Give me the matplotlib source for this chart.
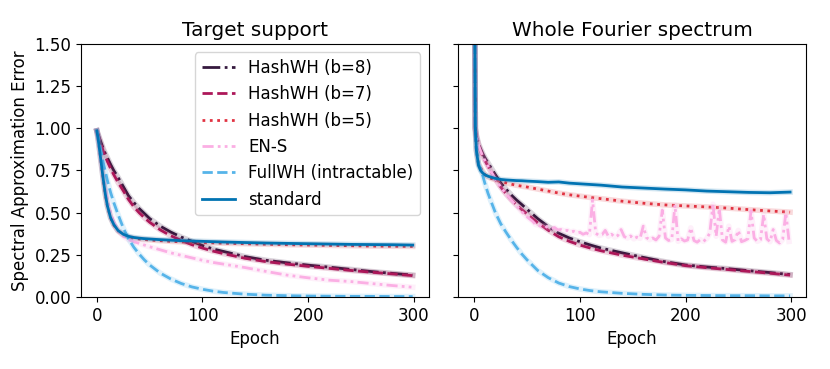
import matplotlib.pyplot as plt

plt.rcParams['font.size'] = 12

epochs = [0, 1, 2, 4, 6, 8, 10, 13, 16, 20, 25, 30, 35, 40, 45, 50, 60, 70, 80, 90,
          100, 110, 120, 140, 160, 180, 200, 220, 240, 260, 280, 299]

# Target support (left panel)
b8_left = [0.985, 0.968, 0.95, 0.915, 0.88, 0.85, 0.825, 0.786, 0.75, 0.71, 0.655, 0.60, 0.56,
           0.525, 0.495, 0.465, 0.42, 0.385, 0.355, 0.33, 0.305, 0.285, 0.27, 0.24, 0.218,
           0.203, 0.189, 0.177, 0.164, 0.151, 0.14, 0.13]
b7_left = [0.985, 0.965, 0.945, 0.905, 0.865, 0.832, 0.803, 0.762, 0.725, 0.68, 0.63, 0.578,
           0.535, 0.5, 0.47, 0.443, 0.398, 0.363, 0.335, 0.31, 0.29, 0.272, 0.257, 0.23, 0.21,
           0.195, 0.182, 0.17, 0.158, 0.147, 0.137, 0.127]
b5_left = [0.985, 0.945, 0.9, 0.8, 0.7, 0.61, 0.54, 0.47, 0.428, 0.392, 0.368, 0.356, 0.348,
           0.344, 0.341, 0.338, 0.334, 0.33, 0.327, 0.325, 0.323, 0.321, 0.319, 0.316, 0.313,
           0.31, 0.308, 0.306, 0.304, 0.302, 0.301, 0.3]
ens_left = [0.985, 0.94, 0.9, 0.81, 0.72, 0.64, 0.575, 0.5, 0.445, 0.395, 0.36, 0.34, 0.328,
            0.318, 0.308, 0.298, 0.28, 0.262, 0.247, 0.232, 0.218, 0.205, 0.195, 0.175, 0.152,
            0.13, 0.114, 0.1, 0.092, 0.08, 0.068, 0.058]
full_left = [0.985, 0.955, 0.92, 0.86, 0.80, 0.745, 0.69, 0.62, 0.56, 0.49, 0.41, 0.345, 0.295,
             0.255, 0.22, 0.19, 0.142, 0.107, 0.08, 0.06, 0.046, 0.035, 0.027, 0.017, 0.011,
             0.008, 0.006, 0.005, 0.004, 0.004, 0.003, 0.003]
std_left = [0.985, 0.945, 0.9, 0.8, 0.7, 0.61, 0.54, 0.47, 0.43, 0.395, 0.372, 0.36, 0.353,
            0.349, 0.346, 0.344, 0.34, 0.337, 0.334, 0.332, 0.33, 0.328, 0.326, 0.323, 0.32,
            0.318, 0.316, 0.314, 0.312, 0.311, 0.31, 0.308]

# Whole Fourier spectrum (right panel)
b8_right = [2.3, 1.0, 0.96, 0.91, 0.878, 0.85, 0.826, 0.795, 0.765, 0.725, 0.677, 0.64, 0.605,
            0.575, 0.548, 0.52, 0.465, 0.418, 0.378, 0.35, 0.328, 0.308, 0.29, 0.262, 0.235,
            0.21, 0.19, 0.178, 0.168, 0.156, 0.145, 0.133]
b7_right = [2.3, 1.0, 0.95, 0.9, 0.865, 0.835, 0.81, 0.775, 0.742, 0.7, 0.652, 0.612, 0.577,
            0.546, 0.518, 0.492, 0.44, 0.396, 0.357, 0.33, 0.308, 0.29, 0.274, 0.248, 0.226,
            0.205, 0.186, 0.174, 0.163, 0.152, 0.141, 0.13]
b5_right = [2.3, 1.0, 0.87, 0.79, 0.765, 0.745, 0.725, 0.712, 0.703, 0.695, 0.686, 0.677, 0.669,
            0.662, 0.657, 0.652, 0.64, 0.628, 0.616, 0.606, 0.598, 0.59, 0.583, 0.568, 0.556,
            0.546, 0.54, 0.534, 0.527, 0.518, 0.51, 0.503]
full_right = [2.3, 1.0, 0.87, 0.79, 0.76, 0.72, 0.675, 0.615, 0.565, 0.5, 0.435, 0.385, 0.338,
              0.295, 0.255, 0.22, 0.158, 0.115, 0.083, 0.062, 0.048, 0.038, 0.031, 0.022, 0.016,
              0.012, 0.01, 0.009, 0.008, 0.008, 0.007, 0.007]
std_right = [2.3, 1.0, 0.87, 0.78, 0.75, 0.735, 0.725, 0.716, 0.71, 0.703, 0.697, 0.694, 0.692,
             0.69, 0.689, 0.687, 0.684, 0.68, 0.682, 0.675, 0.671, 0.667, 0.663, 0.652, 0.646,
             0.64, 0.635, 0.628, 0.624, 0.62, 0.618, 0.622]

# EN-S on the whole spectrum is noisy, so it has its own denser epoch list
ens_epochs = [0, 1, 2, 4, 6, 8, 10, 13, 16, 20, 25, 30, 35, 40, 45, 50, 55] + list(range(58, 299, 3))
ens_right = [2.3, 1.0, 0.95, 0.9, 0.865, 0.835, 0.81, 0.775, 0.742, 0.7, 0.652, 0.612, 0.575,
             0.54, 0.505, 0.475, 0.45,
             0.43, 0.425, 0.418, 0.422, 0.41, 0.405, 0.412, 0.398, 0.4, 0.392,
             0.395, 0.385, 0.39, 0.38, 0.384, 0.372, 0.38, 0.37, 0.575, 0.378,
             0.365, 0.37, 0.395, 0.36, 0.372, 0.355, 0.365, 0.4, 0.358, 0.35,
             0.362, 0.345, 0.355, 0.348, 0.42, 0.352, 0.34, 0.35, 0.338, 0.36,
             0.515, 0.35, 0.335, 0.342, 0.545, 0.33, 0.345, 0.332, 0.338, 0.41,
             0.335, 0.325, 0.34, 0.33, 0.345, 0.38, 0.55, 0.36, 0.525, 0.338,
             0.325, 0.42, 0.33, 0.34, 0.395, 0.328, 0.335, 0.345, 0.51, 0.35,
             0.33, 0.34, 0.49, 0.345, 0.328, 0.4, 0.335, 0.32, 0.342, 0.5,
             0.33]

labels = ['HashWH (b=8)', 'HashWH (b=7)', 'HashWH (b=5)', 'EN-S', 'FullWH (intractable)', 'standard']
colors = ['#35193e', '#ad1759', '#e13342', '#fbafe4', '#56b4e9', '#0173b2']
styles = [(0, (6.4, 1.6, 1, 1.6)), (0, (3.7, 1.6)), (0, (1, 1.65)),
          (0, (4, 1.5, 1, 1.5, 1, 1.5)), (0, (3.7, 1.6)), '-']

fig, axes = plt.subplots(1, 2, figsize=(8.3, 3.69), dpi=100, sharey=True)
fig.subplots_adjust(left=0.0976, right=0.971, bottom=0.195, top=0.881, wspace=0.086)

left_data = [(epochs, b8_left), (epochs, b7_left), (epochs, b5_left),
             (epochs, ens_left), (epochs, full_left), (epochs, std_left)]
right_data = [(epochs, b8_right), (epochs, b7_right), (epochs, b5_right),
              (ens_epochs, ens_right), (epochs, full_right), (epochs, std_right)]

for ax, data, title in [(axes[0], left_data, 'Target support'),
                        (axes[1], right_data, 'Whole Fourier spectrum')]:
    for (x, y), lab, c, ls in zip(data, labels, colors, styles):
        # light band behind each line
        ax.plot(x, y, color=c, lw=4, alpha=0.18)
        ax.plot(x, y, color=c, lw=2, linestyle=ls, label=lab)
    ax.set_title(title, fontsize=14.4)
    ax.set_xlabel('Epoch')
    ax.set_xticks([0, 100, 200, 300])
    ax.set_xlim(-15, 314)

axes[0].set_ylim(0, 1.5)
axes[0].set_yticks([0, 0.25, 0.5, 0.75, 1.0, 1.25, 1.5])
axes[0].set_ylabel('Spectral Approximation Error')
axes[0].legend(loc='upper right')

plt.savefig('out.png', dpi=100)
